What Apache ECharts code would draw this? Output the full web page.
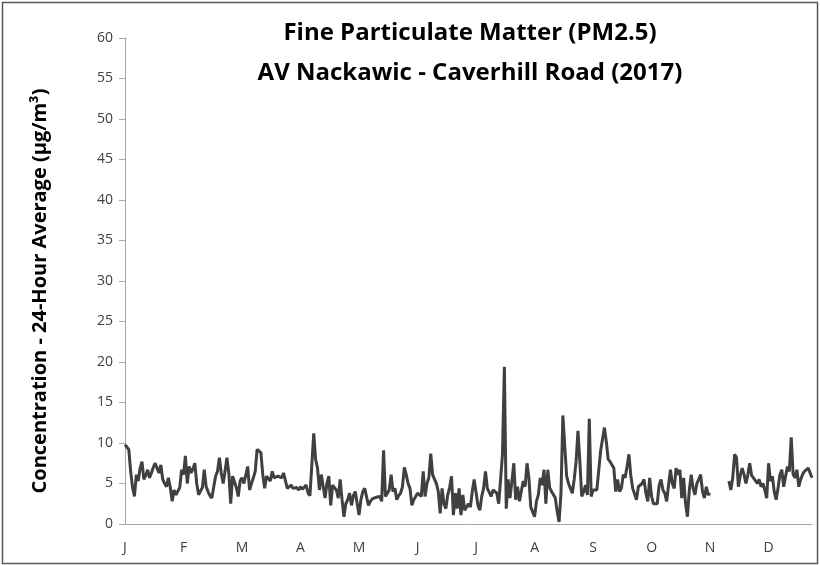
<!DOCTYPE html>
<html>
<head>
<meta charset="utf-8">
<script src="https://cdn.jsdelivr.net/npm/echarts@6/dist/echarts.min.js"></script>
<style>
html,body{margin:0;padding:0;background:#fff;}
#chart{width:820px;height:566px;}
</style>
</head>
<body>
<div id="chart"></div>
<script>
// Daily 24-hour average PM2.5 (µg/m³), 2017
const jan = [9.8,9.6,9.2,6.5,4.5,3.4,6.1,5.3,6.9,7.7,5.5,6.0,6.7,5.7,6.3,7.0,7.5,6.9,6.3,7.3,5.5,5.0,4.6,5.7,4.5,2.8,4.2,3.6,3.8,4.5,6.7];
const feb = [6.1,8.4,5.0,7.1,6.3,6.8,7.5,5.0,3.6,3.6,4.5,6.7,4.6,4.0,3.5,3.2,3.4,5.9,6.5,8.2,6.3,5.0,6.5,8.2,6.3,2.5,5.9,5.7];
const mar = [4.5,3.4,5.3,5.7,5.0,4.8,7.1,4.2,5.0,5.7,6.5,9.2,9.0,8.8,6.1,4.4,5.9,5.6,5.3,6.5,5.7,5.5,5.9,5.8,5.7,6.3,6.5,4.4,4.5,4.8,4.4];
const apr = [4.6,4.5,4.2,4.6,4.3,4.1,4.8,3.8,3.5,3.3,11.2,8.0,6.9,4.2,6.1,5.9,3.2,5.0,5.9,2.3,4.8,4.5,4.2,3.2,5.5,3.0,0.9,2.5,3.0,3.8];
const may = [2.3,3.5,4.0,3.8,1.1,3.0,4.0,4.4,4.6,2.3,2.8,3.1,3.3,3.3,3.3,3.4,2.8,9.1,3.4,3.8,4.2,6.1,4.0,4.4,3.0,3.5,3.8,4.6,7.0,6.1,5.0];
const jun = [4.4,2.3,3.0,3.4,3.8,4.0,3.4,6.5,3.4,5.0,5.7,8.7,6.1,5.5,5.0,4.0,1.3,4.4,2.5,1.9,3.6,4.5,5.9,1.1,3.8,1.9,4.4,1.1,3.6,1.7];
const jul = [1.9,2.5,2.1,4.0,5.5,5.7,2.3,1.7,3.4,4.4,6.5,4.4,4.6,3.4,4.2,4.0,3.8,2.5,5.5,8.6,19.4,1.9,5.5,3.2,5.3,7.5,3.0,4.6,2.8,2.8,5.3];
const aug = [4.6,7.5,5.7,2.1,1.5,0.9,2.8,3.6,5.7,4.8,6.7,2.5,6.7,4.5,4.0,3.8,3.2,1.5,0.25,3.8,13.4,13.6,5.9,5.0,4.4,3.8,5.5,7.7,11.5,7.7,3.4];
const sep = [4.0,4.8,3.6,13.0,3.4,4.2,4.2,4.2,4.2,9.0,9.2,11.9,10.2,8.0,7.7,7.5,6.9,4.0,5.5,4.0,4.4,6.1,5.7,7.1,8.6,6.0,4.4,4.2,3.0,4.6];
const oct = [4.4,5.0,5.5,3.8,2.8,5.7,3.4,2.5,2.6,2.5,4.8,5.5,4.2,3.8,2.8,4.8,6.7,5.0,4.4,6.9,6.1,6.7,3.2,5.7,2.5,0.9,4.2,6.1,4.4,3.6,5.0];
const nov = [5.5,6.1,4.0,3.2,4.6,3.6,3.8,null,null,null,null,null,null,null,null,null,5.3,4.2,5.7,8.6,8.2,4.6,6.0,6.9,6.1,5.0,6.1,7.5,6.0,5.7];
const dec = [5.9,5.0,5.5,4.6,5.0,4.2,3.2,7.5,5.3,5.9,4.0,3.0,4.4,6.1,6.7,4.6,5.9,7.1,6.5,10.7,6.1,5.7,6.7,4.6,5.5,6.1,6.5,6.7,6.9,6.7,5.7];
const monthInitials = ['J','F','M','A','M','J','J','A','S','O','N','D'];
const titleLines = ['Fine Particulate Matter (PM2.5)', 'AV Nackawic - Caverhill Road (2017)'];
const yAxisTitle = 'Concentration - 24-Hour Average (µg/m³)';

const values = [].concat(jan, feb, mar, apr, may, jun, jul, aug, sep, oct, nov, dec);
const dates = [];
for (let i = 0; i < values.length; i++) {
  const d = new Date(Date.UTC(2017, 0, 1 + i));
  dates.push(d.toISOString().slice(0, 10));
}

const chart = echarts.init(document.getElementById('chart'), null, {renderer: 'canvas'});
const FONT = '"Open Sans", "DejaVu Sans", sans-serif';
chart.setOption({
  animation: false,
  backgroundColor: '#ffffff',
  graphic: [{
    type: 'rect',
    shape: {x: 2.5, y: 2.5, width: 815, height: 561},
    style: {fill: 'none', stroke: '#595959', lineWidth: 1.5},
    silent: true
  }, {
    type: 'text',
    x: 40,
    y: 291,
    rotation: Math.PI / 2,
    silent: true,
    style: {
      text: yAxisTitle,
      font: 'bold 20px ' + FONT,
      fill: '#000',
      align: 'center',
      verticalAlign: 'middle'
    }
  }],
  title: {
    text: titleLines.join('\n'),
    left: 465,
    top: 8,
    textAlign: 'center',
    textStyle: {fontFamily: FONT, fontWeight: 'bold', fontSize: 24, color: '#000', lineHeight: 40}
  },
  grid: {left: 125, right: 8, top: 38, bottom: 42, containLabel: false},
  xAxis: {
    type: 'category',
    data: dates,
    boundaryGap: false,
    axisLine: {lineStyle: {color: '#a6a6a6', width: 1}},
    axisTick: {show: false},
    axisLabel: {
      interval: 30,
      margin: 17,
      fontFamily: FONT,
      fontSize: 14,
      color: '#404040',
      formatter: function (v) { return monthInitials[parseInt(v.slice(5, 7), 10) - 1]; }
    },
    splitLine: {show: false}
  },
  yAxis: {
    type: 'value',
    min: 0,
    max: 60,
    interval: 5,
    axisLine: {show: true, lineStyle: {color: '#a6a6a6', width: 1}},
    axisTick: {show: true, length: 6, lineStyle: {color: '#a6a6a6'}},
    axisLabel: {fontFamily: FONT, fontSize: 14, color: '#404040', margin: 12},
    splitLine: {show: false}
  },
  series: [{
    type: 'line',
    data: values,
    showSymbol: false,
    connectNulls: false,
    lineStyle: {color: '#404040', width: 3},
    itemStyle: {color: '#404040'}
  }]
});
</script>
</body>
</html>
